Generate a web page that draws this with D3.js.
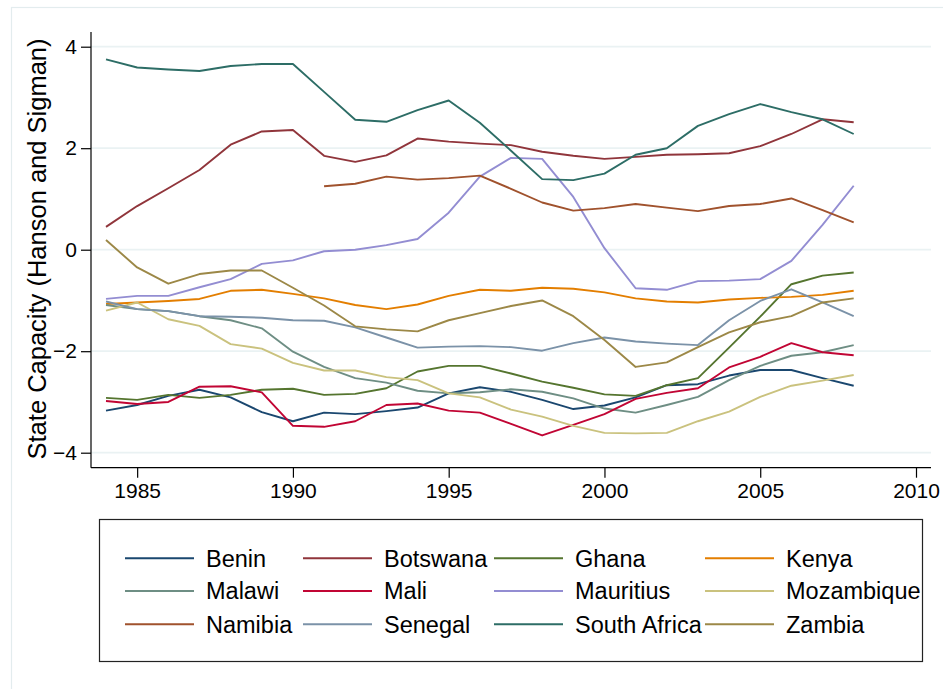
<!DOCTYPE html>
<html>
<head>
<meta charset="utf-8">
<script src="https://cdn.jsdelivr.net/npm/d3@7"></script>
<style>
  body { margin: 0; background: #fff; }
  svg { display: block; font-family: "Liberation Sans", Arial, Helvetica, sans-serif; }
</style>
</head>
<body>
<div id="chart"></div>
<script>
// Data
const years = [1984, 1985, 1986, 1987, 1988, 1989, 1990, 1991, 1992, 1993, 1994, 1995, 1996,
  1997, 1998, 1999, 2000, 2001, 2002, 2003, 2004, 2005, 2006, 2007, 2008];

const benin = [-3.17, -3.06, -2.88, -2.76, -2.91, -3.20, -3.38, -3.21, -3.24, -3.18, -3.11, -2.83, -2.71,
  -2.80, -2.96, -3.14, -3.07, -2.91, -2.67, -2.65, -2.48, -2.37, -2.37, -2.53, -2.68];
const botswana = [0.45, 0.86, 1.21, 1.57, 2.07, 2.33, 2.36, 1.85, 1.73, 1.86, 2.19, 2.13, 2.09,
  2.06, 1.93, 1.85, 1.79, 1.83, 1.87, 1.88, 1.90, 2.04, 2.28, 2.57, 2.51];
const ghana = [-2.92, -2.96, -2.86, -2.92, -2.86, -2.76, -2.74, -2.86, -2.84, -2.73, -2.40, -2.29, -2.29,
  -2.44, -2.60, -2.72, -2.85, -2.88, -2.67, -2.53, -1.93, -1.32, -0.68, -0.51, -0.45];
const kenya = [-1.07, -1.04, -1.01, -0.97, -0.81, -0.79, -0.87, -0.96, -1.09, -1.17, -1.08, -0.91, -0.79,
  -0.81, -0.75, -0.77, -0.84, -0.96, -1.02, -1.04, -0.98, -0.95, -0.93, -0.89, -0.81];
const malawi = [-1.09, -1.17, -1.21, -1.31, -1.39, -1.55, -2.01, -2.31, -2.53, -2.62, -2.78, -2.83, -2.81,
  -2.75, -2.80, -2.93, -3.13, -3.21, -3.06, -2.90, -2.57, -2.29, -2.09, -2.02, -1.88];
const mali = [-2.98, -3.04, -3.00, -2.70, -2.69, -2.81, -3.47, -3.49, -3.38, -3.06, -3.03, -3.17, -3.21,
  -3.43, -3.66, -3.45, -3.24, -2.94, -2.82, -2.73, -2.32, -2.11, -1.84, -2.02, -2.08];
const mauritius = [-0.97, -0.91, -0.91, -0.74, -0.58, -0.28, -0.21, -0.03, 0.00, 0.09, 0.21, 0.73, 1.44,
  1.81, 1.79, 1.04, 0.03, -0.76, -0.79, -0.62, -0.61, -0.58, -0.22, 0.49, 1.26];
const mozambique = [-1.20, -1.04, -1.37, -1.50, -1.86, -1.95, -2.23, -2.38, -2.38, -2.51, -2.57, -2.83, -2.91,
  -3.15, -3.29, -3.47, -3.61, -3.62, -3.61, -3.38, -3.19, -2.90, -2.68, -2.58, -2.47];
const namibia = [null, null, null, null, null, null, null, 1.25, 1.30, 1.44, 1.38, 1.41, 1.46,
  1.20, 0.93, 0.77, 0.82, 0.90, 0.83, 0.76, 0.86, 0.90, 1.01, 0.78, 0.54];
const senegal = [-1.02, -1.17, -1.21, -1.31, -1.32, -1.34, -1.39, -1.40, -1.53, -1.73, -1.93, -1.91, -1.90,
  -1.92, -1.99, -1.84, -1.73, -1.81, -1.85, -1.88, -1.39, -1.01, -0.78, -1.04, -1.31];
const southAfrica = [3.75, 3.59, 3.55, 3.52, 3.62, 3.66, 3.66, 3.11, 2.56, 2.52, 2.75, 2.94, 2.50,
  1.95, 1.39, 1.37, 1.50, 1.87, 2.00, 2.44, 2.67, 2.87, 2.71, 2.57, 2.28];
const zambia = [0.19, -0.35, -0.67, -0.48, -0.41, -0.41, -0.75, -1.10, -1.51, -1.57, -1.61, -1.39, -1.25,
  -1.11, -1.00, -1.31, -1.78, -2.31, -2.22, -1.92, -1.63, -1.43, -1.31, -1.04, -0.96];

const countries = ["Benin", "Botswana", "Ghana", "Kenya", "Malawi", "Mali", "Mauritius", "Mozambique",
  "Namibia", "Senegal", "South Africa", "Zambia"];
const seriesValues = [benin, botswana, ghana, kenya, malawi, mali, mauritius, mozambique,
  namibia, senegal, southAfrica, zambia];
const colors = ["#1a476f", "#90353b", "#55752f", "#e37e00", "#6e8e84", "#c10534", "#938dd2", "#cac27e",
  "#a0522d", "#7b92a8", "#2d6d66", "#9c8847"];

const xTicks = [1985, 1990, 1995, 2000, 2005, 2010];
const yTicks = [-4, -2, 0, 2, 4];

const width = 943, height = 689;
const plot = {left: 91, right: 931, top: 32, bottom: 467.7};

const svg = d3.select("#chart").append("svg")
  .attr("width", width)
  .attr("height", height);

// outer graph region frame
svg.append("rect")
  .attr("x", 11.5).attr("y", 7.5)
  .attr("width", width + 20).attr("height", height + 20)
  .attr("fill", "none")
  .attr("stroke", "#e3ecee")
  .attr("stroke-width", 1.2);

const x = d3.scaleLinear().domain([1984, 2010]).range([106, 916]);
const y = d3.scaleLinear().domain([-4, 4]).range([452.7, 46.7]);

// gridlines
svg.append("g")
  .selectAll("line")
  .data(yTicks)
  .join("line")
    .attr("x1", plot.left).attr("x2", plot.right)
    .attr("y1", d => y(d)).attr("y2", d => y(d))
    .attr("stroke", "#eaf2f3")
    .attr("stroke-width", 1.8);

// series
const line = d3.line()
  .defined(d => d.v != null)
  .x(d => x(d.year))
  .y(d => y(d.v));

svg.append("g")
  .selectAll("path")
  .data(seriesValues)
  .join("path")
    .attr("d", vals => line(years.map((yr, i) => ({year: yr, v: vals[i]}))))
    .attr("fill", "none")
    .attr("stroke", (d, i) => colors[i])
    .attr("stroke-width", 1.9)
    .attr("stroke-linejoin", "round");

// axes
const yAxis = d3.axisLeft(y)
  .tickValues(yTicks)
  .tickSize(10)
  .tickPadding(4)
  .tickFormat(d3.format("d"));

const gy = svg.append("g")
  .attr("transform", `translate(${plot.left},0)`)
  .call(yAxis);
gy.select(".domain").attr("d", `M0,${plot.top}V${plot.bottom}`).attr("stroke-width", 1.2);
gy.selectAll(".tick line").attr("stroke-width", 1.2);
gy.selectAll(".tick text")
  .attr("font-size", 21)
  .attr("font-family", "Liberation Sans, Arial, sans-serif")
  .attr("fill", "#000");

const xAxis = d3.axisBottom(x)
  .tickValues(xTicks)
  .tickSize(10)
  .tickPadding(4)
  .tickFormat(d3.format("d"));

const gx = svg.append("g")
  .attr("transform", `translate(0,${plot.bottom})`)
  .call(xAxis);
gx.select(".domain").attr("d", `M${plot.left},0H${plot.right}`).attr("stroke-width", 1.2);
gx.selectAll(".tick line").attr("stroke-width", 1.2);
gx.selectAll(".tick text")
  .attr("font-size", 21)
  .attr("font-family", "Liberation Sans, Arial, sans-serif")
  .attr("fill", "#000")
  .attr("dy", null)
  .attr("y", 30.5);

// y title
svg.append("text")
  .attr("transform", "translate(46,249) rotate(-90)")
  .attr("text-anchor", "middle")
  .attr("font-size", 25.5)
  .attr("fill", "#000")
  .text("State Capacity (Hanson and Sigman)");

// legend
const legend = svg.append("g");
legend.append("rect")
  .attr("x", 99.5).attr("y", 519.5)
  .attr("width", 823).attr("height", 142)
  .attr("fill", "#fff")
  .attr("stroke", "#222")
  .attr("stroke-width", 1.2);

const colX = [125, 303, 494, 705];
const rowY = [558.3, 591, 624.3];
const keyLen = 69;

const items = legend.selectAll("g.item")
  .data(countries)
  .join("g")
    .attr("class", "item")
    .attr("transform", (d, i) => `translate(${colX[i % 4]},${rowY[Math.floor(i / 4)]})`);

items.append("line")
  .attr("x1", 0).attr("x2", keyLen)
  .attr("y1", 0).attr("y2", 0)
  .attr("stroke", (d, i) => colors[i])
  .attr("stroke-width", 2);

items.append("text")
  .attr("x", keyLen + 12)
  .attr("y", 8.3)
  .attr("font-size", 23.5)
  .attr("fill", "#000")
  .text(d => d);
</script>
</body>
</html>
